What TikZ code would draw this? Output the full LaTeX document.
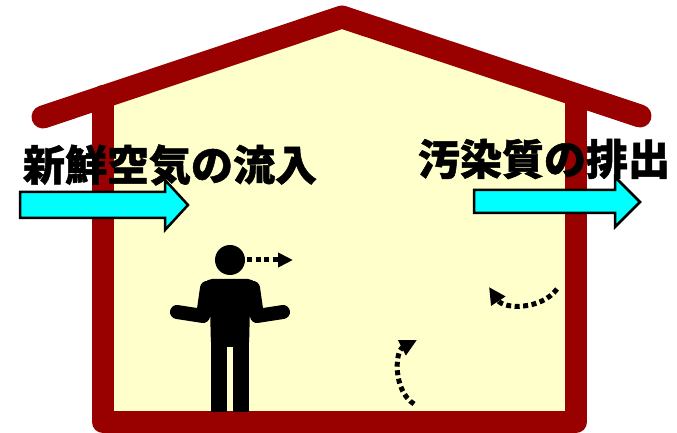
\documentclass[tikz,border=0pt]{standalone}
\usepackage{fontspec}
\newfontfamily\jpfont{Noto Sans CJK JP}[BoldFeatures={FakeBold=1.2}]
\usepackage{tikz}
\usetikzlibrary{arrows.meta}

\definecolor{wallred}{RGB}{153,0,0}
\definecolor{roomfill}{RGB}{255,255,204}
\definecolor{airblue}{RGB}{0,255,255}

\tikzset{
  wall/.style={draw=wallred,line width=22pt,line cap=round,line join=round},
  flowarrow/.style={draw=black,fill=airblue,line width=2.5pt,line join=miter},
  airflow/.style={line width=5pt,dash pattern=on 5pt off 3.5pt,
    -{Triangle[length=17pt,width=16pt]}},
  caption/.style={inner sep=0pt,font=\jpfont\bfseries\fontsize{42}{42}\selectfont},
}

\begin{document}
\begin{tikzpicture}[x=1pt,y=1pt]
    \useasboundingbox (0,0) rectangle (677,433);

    % room and house outline
    \fill[roomfill] (103,11) -- (103,337) -- (342,416) -- (576,337) -- (576,11) -- cycle;
    \draw[wall] (103,337) -- (103,11) -- (576,11) -- (576,337);
    \draw[wall,line width=23pt] (43,316) -- (342,416) -- (640,317);

    % person
    \node[circle,fill=black,minimum size=30pt,inner sep=0pt] (head) at (230,173) {};
    \fill[rounded corners=5pt] (207,154) -- (253,154) -- (260,143) -- (250,126)
        -- (249,86) -- (211,86) -- (210,126) -- (200,143) -- cycle;
    \draw[line width=14pt,line cap=round,line join=round]
        (207,145) -- (203,117) -- (177,121)
        (253,145) -- (257,117) -- (283,121);
    \fill (211,21) rectangle (227,92);
    \fill (233,21) rectangle (249,92);

    % air movement
    \coordinate (look) at (293,173);
    \coordinate (rise0) at (414,29);
    \coordinate (rise1) at (417,93);
    \coordinate (turn0) at (557,144);
    \coordinate (turn1) at (489,146);
    \draw[airflow,shorten <=2pt,-{Triangle[length=15pt,width=14pt]}] (head.east) -- (look);
    \draw[airflow] (rise0) to[bend left=60] (rise1);
    \draw[airflow] (turn0) to[bend left=55] (turn1);

    % labels
    \node[caption] (inlet) at (170,268) {新鮮空気の流入};
    \node[caption] (outlet) at (544,274) {汚染質の排出};

    % in and out arrows
    \path[flowarrow] (20,241) -- (165,241) -- (165,253) -- (188,228)
        -- (165,203) -- (165,215) -- (20,215) -- cycle;
    \path[flowarrow] (474,243) -- (615,243) -- (615,256) -- (640,231)
        -- (615,206) -- (615,220) -- (474,220) -- cycle;
\end{tikzpicture}
\end{document}
